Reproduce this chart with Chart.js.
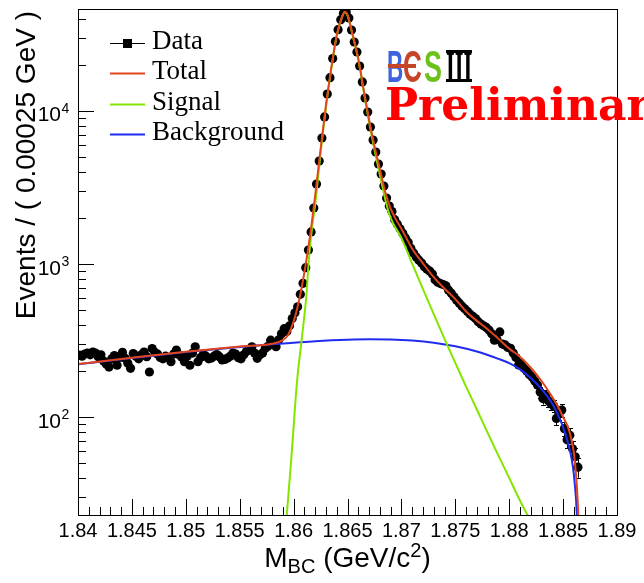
<!DOCTYPE html>
<html>
<head>
<meta charset="utf-8">
<script src="https://cdn.jsdelivr.net/npm/chart.js@4.4.1/dist/chart.umd.min.js"></script>
<style>
  html, body { margin: 0; padding: 0; background: #fff; }
</style>
</head>
<body>
<canvas id="mbcChart" width="644" height="583"></canvas>
<script>
// ---- DATA ----
const binWidth = 0.00025;
const xMin = 1.84, xMax = 1.89;
const yMin = 22.9, yMax = 46400;

const xTickLabels = ['1.84', '1.845', '1.85', '1.855', '1.86', '1.865', '1.87', '1.875', '1.88', '1.885', '1.89'];
const yDecades = [2, 3, 4];

// events per 0.00025 GeV bin, starting at 1.84
const dataCounts = [
  254, 250, 258, 262, 255, 266, 262, 248, 255, 232,
  222, 212, 240, 252, 218, 245, 265, 242, 225, 208,
  260, 250, 240, 255, 266, 248, 197, 280, 265, 258,
  245, 240, 250, 244, 230, 258, 274, 255, 246, 230,
  250, 218, 262, 288, 230, 245, 256, 250, 240, 243,
  250, 256, 248, 236, 238, 243, 250, 262, 258, 244,
  240, 255, 268, 276, 288, 262, 242, 255, 262, 282,
  290, 318, 300, 288, 320, 350, 378, 362, 395, 440,
  480, 525, 634, 748, 946, 1235, 1620, 2320, 3330, 4710,
  6660, 9140, 12910, 16500, 22000, 28500, 34000, 39500, 43500, 44400,
  40550, 33830, 28250, 24300, 19680, 15480, 12160, 9850, 7860, 6460,
  5390, 4500, 3870, 3235, 2700, 2394, 2200, 1950, 1820, 1700,
  1590, 1480, 1390, 1270, 1180, 1110, 1060, 1015, 960, 925,
  900, 860, 790, 760, 745, 735, 720, 675, 645, 610,
  580, 555, 530, 510, 490, 470, 455, 440, 420, 405,
  395, 385, 370, 350, 318, 320, 360, 300, 296, 285,
  281, 262, 245, 219, 225, 208, 200, 190, 183, 172,
  162, 146, 132, 138, 128, 122, 118, 98, 106, 111,
  84, 71, 76, 62, 55, 47
];

// fit curves
const totalX = [1.840, 1.845, 1.850, 1.855, 1.858, 1.859, 1.8595, 1.860, 1.8605, 1.861, 1.8615, 1.862,
  1.8625, 1.863, 1.8635, 1.864, 1.8645, 1.86475, 1.865, 1.8655, 1.866, 1.8665, 1.867, 1.8675, 1.868,
  1.8685, 1.869, 1.8695, 1.870, 1.871, 1.872, 1.873, 1.874, 1.875, 1.876, 1.877, 1.878, 1.879, 1.880,
  1.881, 1.882, 1.883, 1.884, 1.8845, 1.885, 1.8855, 1.8858, 1.886, 1.8862, 1.8864, 1.8866];
const totalY = [222, 244, 267, 289, 301, 318, 345, 420, 575, 880, 1480, 2800,
  5600, 10900, 19200, 31200, 41500, 44500, 42500, 31000, 22000, 13800, 8800, 5900, 4180,
  2950, 2300, 1950, 1700, 1260, 1010, 820, 690, 590, 490, 425, 375, 325, 280,
  248, 210, 172, 135, 118, 100, 84, 70, 58, 42, 24, 10];

const signalX = [1.8593, 1.8598, 1.8603, 1.8607, 1.8612, 1.8614, 1.8617, 1.862, 1.8625, 1.863, 1.8635,
  1.864, 1.8645, 1.86475, 1.865, 1.8655, 1.866, 1.8665, 1.867, 1.8675, 1.868, 1.8685, 1.869, 1.870,
  1.871, 1.872, 1.873, 1.874, 1.875, 1.876, 1.877, 1.878, 1.879, 1.880, 1.881, 1.882];
const signalY = [20, 55, 165, 300, 640, 1035, 1700, 2450, 5250, 10550, 18900,
  30900, 41200, 44200, 42200, 30700, 21700, 13500, 8500, 5600, 3850, 2650, 2000, 1480,
  1005, 686, 470, 324, 226, 158, 112, 79, 56, 40, 28.5, 20.8];

const bkgX = [1.840, 1.845, 1.850, 1.855, 1.858, 1.860, 1.862, 1.865, 1.867, 1.869, 1.871, 1.873,
  1.875, 1.877, 1.879, 1.880, 1.881, 1.882, 1.883, 1.884, 1.8845, 1.885, 1.8855, 1.8858, 1.886,
  1.8862, 1.8864];
const bkgY = [221, 243, 266, 287, 299, 306, 313, 320, 322, 321, 316, 306,
  290, 268, 240, 225, 205, 180, 152, 122, 104, 86, 66, 53, 42,
  29, 15];

const colTotal = '#e2451c';
const colSignal = '#84e600';
const colBkg = '#1f2cf0';

const zip = (xs, ys) => xs.map((x, i) => ({ x: x, y: ys[i] }));
const dataPoints = dataCounts.map((n, i) => ({ x: xMin + (i + 0.5) * binWidth, y: n }));

// ---- ROOT-like decorations ----
const rootStyle = {
  id: 'rootStyle',
  afterDatasetDraw(chart, args) {
    if (args.index !== 0) return;
    const ctx = chart.ctx, a = chart.chartArea, ys = chart.scales.y;
    const meta = chart.getDatasetMeta(0);
    ctx.save();
    ctx.beginPath();
    ctx.rect(a.left, a.top, a.right - a.left, a.bottom - a.top);
    ctx.clip();
    ctx.strokeStyle = '#000';
    ctx.lineWidth = 1;
    meta.data.forEach((pt, i) => {
      const n = dataCounts[i], e = Math.sqrt(n);
      const x = Math.round(pt.x) + 0.5;
      const y1 = ys.getPixelForValue(n + e), y2 = ys.getPixelForValue(n - e);
      // error bars hidden under the marker are not drawn
      if (y2 - y1 < 11) return;
      ctx.beginPath();
      ctx.moveTo(x, y1); ctx.lineTo(x, y2);
      ctx.moveTo(x - 2.5, Math.round(y1) + 0.5); ctx.lineTo(x + 2.5, Math.round(y1) + 0.5);
      ctx.moveTo(x - 2.5, Math.round(y2) + 0.5); ctx.lineTo(x + 2.5, Math.round(y2) + 0.5);
      ctx.stroke();
    });
    ctx.restore();
  },
  afterDraw(chart) {
    const ctx = chart.ctx, a = chart.chartArea;
    const xs = chart.scales.x, ys = chart.scales.y;
    ctx.save();
    ctx.strokeStyle = '#000';
    ctx.lineWidth = 1;

    // frame
    ctx.strokeRect(Math.round(a.left) + 0.5, Math.round(a.top) + 0.5,
      Math.round(a.right - a.left), Math.round(a.bottom - a.top));

    // x ticks (inward, bottom only)
    ctx.beginPath();
    for (let k = 0; k <= 50; k++) {
      const px = Math.round(xs.getPixelForValue(xMin + k * 0.001)) + 0.5;
      const len = k % 5 === 0 ? 16 : 8;
      ctx.moveTo(px, a.bottom); ctx.lineTo(px, a.bottom - len);
    }
    // y ticks (inward, left only)
    for (let d = 1; d <= 4; d++) {
      for (let m = 1; m <= 9; m++) {
        const v = m * Math.pow(10, d);
        if (v < yMin || v > yMax) continue;
        const py = Math.round(ys.getPixelForValue(v)) + 0.5;
        ctx.moveTo(a.left, py); ctx.lineTo(a.left + (m === 1 ? 16 : 8), py);
      }
    }
    ctx.stroke();

    // x tick labels
    ctx.fillStyle = '#000';
    ctx.font = '20px "Liberation Sans", Arial, sans-serif';
    ctx.textAlign = 'center';
    ctx.textBaseline = 'alphabetic';
    xTickLabels.forEach(lbl => {
      ctx.fillText(lbl, xs.getPixelForValue(parseFloat(lbl)), a.bottom + 22);
    });

    // y tick labels 10^n
    yDecades.forEach(d => {
      const py = ys.getPixelForValue(Math.pow(10, d));
      ctx.font = '21px "Liberation Sans", Arial, sans-serif';
      ctx.textAlign = 'right';
      ctx.fillText('10', 61, py + 10.5);
      ctx.font = '14px "Liberation Sans", Arial, sans-serif';
      ctx.textAlign = 'left';
      ctx.fillText(String(d), 61.5, py + 2);
    });

    // x axis title: M_BC (GeV/c^2)
    const big = '28px "Liberation Sans", Arial, sans-serif';
    const small = '20px "Liberation Sans", Arial, sans-serif';
    const parts = [
      { t: 'M', f: big, dy: 0 },
      { t: 'BC', f: small, dy: 6 },
      { t: ' (GeV/c', f: big, dy: 0 },
      { t: '2', f: small, dy: -10 },
      { t: ')', f: big, dy: 0 }
    ];
    let w = 0;
    parts.forEach(p => { ctx.font = p.f; p.w = ctx.measureText(p.t).width; w += p.w; });
    let cx = (a.left + a.right) / 2 - w / 2;
    ctx.textAlign = 'left';
    parts.forEach(p => { ctx.font = p.f; ctx.fillText(p.t, cx, 567 + p.dy); cx += p.w; });

    // y axis title
    ctx.save();
    ctx.translate(35, 11);
    ctx.rotate(-Math.PI / 2);
    ctx.font = big;
    ctx.textAlign = 'right';
    ctx.fillText('Events / ( 0.00025 GeV )', 0, 0);
    ctx.restore();

    // legend
    const legend = [
      { label: 'Data', color: '#000', marker: true },
      { label: 'Total', color: colTotal },
      { label: 'Signal', color: colSignal },
      { label: 'Background', color: colBkg }
    ];
    ctx.font = '27px "Liberation Serif", "Times New Roman", serif';
    ctx.textAlign = 'left';
    legend.forEach((item, i) => {
      const base = 49 + i * 30.3;
      const ly = Math.round(base - 6) + 0.5;
      ctx.strokeStyle = item.color;
      ctx.lineWidth = item.marker ? 1 : 2;
      ctx.beginPath();
      ctx.moveTo(110, ly); ctx.lineTo(145, ly);
      ctx.stroke();
      if (item.marker) {
        ctx.fillStyle = '#000';
        ctx.fillRect(123, ly - 4.5, 9, 9);
      }
      ctx.fillStyle = '#000';
      ctx.fillText(item.label, 152, base);
    });

    // BESIII logo
    ctx.textAlign = 'left';
    ctx.font = 'bold 45px "Liberation Sans", Arial, sans-serif';
    const glyph = (t, x, sx, col) => {
      ctx.save(); ctx.translate(x, 82); ctx.scale(sx, 1);
      ctx.fillStyle = col; ctx.fillText(t, 0, 0); ctx.restore();
    };
    glyph('B', 387, 0.5, '#3f63dd');
    glyph('C', 403, 0.58, '#c4452a');
    ctx.fillStyle = '#c4452a';
    ctx.fillRect(388, 64, 28, 4);
    glyph('S', 424, 0.6, '#6cc21c');
    ctx.font = 'bold 45px "Liberation Serif", serif';
    glyph('III', 446, 0.5, '#000');
    ctx.fillStyle = '#000';
    ctx.fillRect(446, 50, 26, 3);
    ctx.fillRect(446, 79, 26, 3);

    // Preliminary
    ctx.fillStyle = '#ff0000';
    ctx.font = 'bold 44px "DejaVu Serif", serif';
    ctx.fillText('Preliminary', 385, 120);

    ctx.restore();
  }
};

// ---- CHART ----
function criarGrafico() {
  const ctx = document.getElementById('mbcChart').getContext('2d');
  return new Chart(ctx, {
    type: 'line',
    data: {
      datasets: [
        {
          label: 'Data',
          data: dataPoints,
          showLine: false,
          pointRadius: 4.6,
          pointBackgroundColor: '#000',
          pointBorderWidth: 0,
          order: 10
        },
        {
          label: 'Background',
          data: zip(bkgX, bkgY),
          borderColor: colBkg,
          borderWidth: 2,
          pointRadius: 0,
          cubicInterpolationMode: 'monotone',
          order: 3
        },
        {
          label: 'Signal',
          data: zip(signalX, signalY),
          borderColor: colSignal,
          borderWidth: 2,
          pointRadius: 0,
          cubicInterpolationMode: 'monotone',
          order: 2
        },
        {
          label: 'Total',
          data: zip(totalX, totalY),
          borderColor: colTotal,
          borderWidth: 2,
          pointRadius: 0,
          cubicInterpolationMode: 'monotone',
          order: 1
        }
      ]
    },
    options: {
      responsive: false,
      animation: false,
      devicePixelRatio: 1,
      layout: { padding: { left: 0, top: 9, right: 27, bottom: 0 } },
      plugins: {
        legend: { display: false },
        tooltip: { enabled: false }
      },
      scales: {
        x: {
          type: 'linear',
          min: xMin,
          max: xMax,
          ticks: { display: false },
          grid: { display: false },
          border: { display: false },
          afterFit: s => { s.height = 68; }
        },
        y: {
          type: 'logarithmic',
          min: yMin,
          max: yMax,
          ticks: { display: false },
          grid: { display: false },
          border: { display: false },
          afterFit: s => { s.width = 78; }
        }
      }
    },
    plugins: [rootStyle]
  });
}

criarGrafico();
</script>
</body>
</html>
